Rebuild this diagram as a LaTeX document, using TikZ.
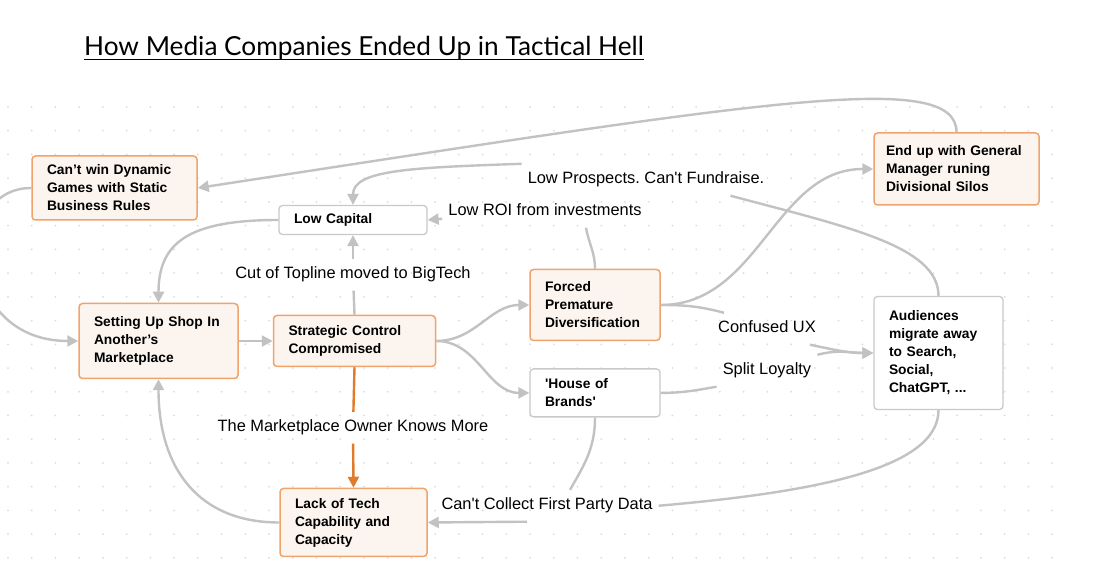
\documentclass[tikz,border=0pt]{standalone}
\usepackage{fontspec}
\setmainfont{Liberation Sans}
\newfontfamily\sfx{Liberation Sans}
\newfontfamily\ttlfont{Lato}
\usetikzlibrary{arrows.meta,positioning}
\frenchspacing
\hyphenpenalty=10000
\definecolor{boxor}{HTML}{F0A46C}
\definecolor{boxbg}{HTML}{FCF5EF}
\definecolor{boxgr}{HTML}{C9C9C9}
\definecolor{lngr}{HTML}{C2C2C2}
\definecolor{lnor}{HTML}{E07B2C}
\definecolor{dotc}{HTML}{DCDCDC}
\tikzset{
  blk/.style={draw, rounded corners=3.5pt, align=left, inner xsep=15pt,
              inner ysep=0pt, line width=1.5pt,
              font=\sfx\fontsize{13.8}{18}\selectfont\bfseries},
  fill1/.style={draw=boxor, fill=boxbg},
  fill2/.style={draw=boxgr, fill=white, line width=1.3pt},
  ln/.style={draw=lngr, line width=2.4pt},
  oln/.style={ln, draw=lnor},
  sig/.style={ln, -{Triangle[length=11pt,width=11pt]}},
  osig/.style={sig, draw=lnor},
  lbl/.style={font=\sfx\fontsize{16.4}{20}\selectfont, inner xsep=6pt,
              inner ysep=8pt, text height=12pt, text depth=3.5pt},
}
\begin{document}
\begin{tikzpicture}[x=1pt, y=1pt, node distance=27pt]
  \useasboundingbox (0,0) rectangle (1096,562);
  \clip (0,0) rectangle (1096,562);
  \fill[white] (0,0) rectangle (1096,562);
  \foreach \i in {0,...,44}
    \foreach \j in {0,...,19}
      \fill[dotc] ({8+23.73*\i},{455-23.73*\j}) circle (1pt);

  \node[anchor=base west, inner sep=0pt,
        font=\ttlfont\fontsize{26.2}{31}\selectfont] (ttl) at (84,506)
    {How Media Companies Ended Up in Tactical Hell};
  \draw[line width=1.8pt] ([yshift=-3.5pt]ttl.base west) -- ([yshift=-3.5pt]ttl.base east);

  \node[blk,fill1,text width=135pt,minimum height=64pt] (cw) at (114.5,374)
    {Can’t win Dynamic\\Games with Static\\Business Rules};
  \node[blk,fill2,text width=118pt,minimum height=29pt] (lc) at (353,342)
    {Low Capital};
  \node[blk,fill1,text width=129pt,minimum height=75pt] (su) at (158.5,221)
    {Setting Up Shop In\\Another’s\\Marketplace};
  \node[blk,fill1,text width=132pt,minimum height=51pt,right=34pt of su] (sc)
    {Strategic Control\\Compromised};
  \node[blk,fill1,text width=100pt,minimum height=71pt] (fp) at (595,257)
    {Forced\\Premature\\Diversification};
  \node[blk,fill2,text width=100pt,minimum height=48pt,below=of fp] (hb)
    {'House of\\Brands'};
  \node[blk,fill1,text width=141pt,inner xsep=12pt,minimum height=72pt] (eu) at (956.5,393)
    {End up with General\\Manager runing\\Divisional Silos};
  \node[blk,fill2,text width=99pt,minimum height=113pt] (au) at (938.5,209)
    {Audiences\\migrate away\\to Search,\\Social,\\ChatGPT, ...};
  \node[blk,fill1,text width=117pt,minimum height=68pt] (lk) at (353.5,39.5)
    {Lack of Tech\\Capability and\\Capacity};

  \node[lbl] (lpro) at (646,382.25) {Low Prospects. Can't Fundraise.};
  \node[lbl] (lroi) at (545,350.25) {Low ROI from investments};
  \node[lbl] (ltop) at (353,287.25) {Cut of Topline moved to BigTech};
  \node[lbl] (lown) at (353,134.25) {The Marketplace Owner Knows More};
  \node[lbl] (lux) at (767,233.25) {Confused UX};
  \node[lbl] (lspl) at (767,191.25) {Split Loyalty};
  \node[lbl] (ldat) at (547,56.25) {Can't Collect First Party Data};

  \draw[sig] (eu.north) to[out=90,in=8.7,out distance=64pt,in distance=570pt] (cw.east);
  \draw[sig] (cw.west) to[out=180,in=180,out distance=80pt,in distance=120pt] (su.west);
  \draw[sig] (lc.west) to[out=180,in=90,out distance=90pt,in distance=60pt] (su.north);
  \draw[sig] (lk.west) to[out=180,in=-90,out distance=80pt,in distance=90pt] (su.south);
  \draw[sig] (su.east) -- (sc.west);
  \draw[ln] (sc.north) -- (ltop);
  \draw[sig] (ltop) -- (lc.south);
  \draw[oln] (sc.south) -- (lown);
  \draw[osig] (lown) -- (lk.north);
  \draw[sig] (sc.east) to[out=0,in=180] (fp.west);
  \draw[sig] (sc.east) to[out=0,in=180] (hb.west);
  \draw[sig] (fp.east) to[out=0,in=180] (eu.west);
  \draw[ln] (fp.east) to[out=0,in=165] ([xshift=12pt]lux.north west);
  \draw[sig] ([xshift=-12pt]lux.south east) to[out=-12,in=180] (au.west);
  \draw[ln] (hb.east) to[out=0,in=190] (lspl.south west);
  \draw[sig] (lspl.north east) to[out=15,in=180] (au.west);
  \draw[ln] (au.north) to[out=90,in=-15,out distance=50pt,in distance=120pt]
    ([xshift=-40pt]lpro.south east);
  \draw[sig] (lpro.north west) to[out=182,in=90,out distance=110pt,in distance=35pt] (lc.north);
  \draw[ln] (fp.north) to[out=90,in=-80] ([xshift=41pt]lroi.south);
  \draw[sig] ([yshift=-7pt]lroi.west) -- (lc.east);
  \draw[ln] (hb.south) to[out=-90,in=60] ([xshift=23pt]ldat.north);
  \draw[ln] (au.south) to[out=-90,in=5,out distance=60pt,in distance=150pt] (ldat.east);
  \draw[sig] ([xshift=-20pt]ldat.south) -- (lk.east);
\end{tikzpicture}
\end{document}
